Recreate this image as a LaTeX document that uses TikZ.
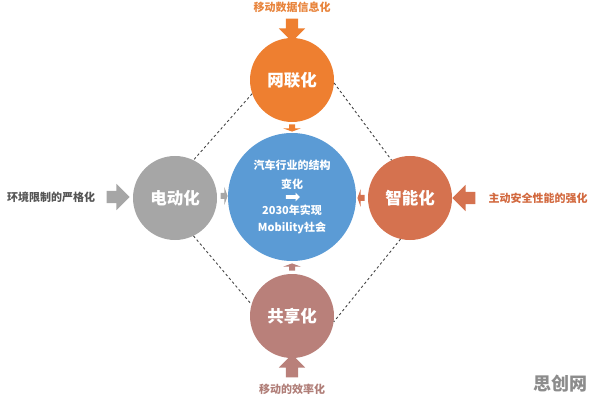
\documentclass[tikz,border=0pt]{standalone}
\usepackage{fontspec}
\setmainfont{Noto Sans CJK SC}
\usetikzlibrary{shapes.arrows}
\definecolor{corange}{HTML}{EE7F30}
\definecolor{cgray}{HTML}{A6A6A6}
\definecolor{cred}{HTML}{D5724F}
\definecolor{cbrown}{HTML}{B9807A}
\definecolor{cblue}{HTML}{5B9BD5}
\definecolor{tgray}{HTML}{555555}
\definecolor{tbrown}{HTML}{B07E78}
\definecolor{tred}{HTML}{D2693F}
\definecolor{torange}{HTML}{E8843C}
\definecolor{dashc}{HTML}{444444}
\tikzset{
  ball/.style={circle, minimum size=84pt, inner sep=0pt, text=white, font=\bfseries\fontsize{16.5}{18}\selectfont},
  bigarrow/.style={single arrow, draw=none, inner sep=6pt, minimum height=23pt, single arrow head extend=7pt, single arrow head indent=0pt},
  smallarrow/.style={single arrow, draw=none, inner sep=2.8pt, minimum height=7pt, single arrow head extend=6pt, single arrow tip angle=140, single arrow head indent=0pt},
  outlabel/.style={font=\bfseries\fontsize{11}{13}\selectfont},
  ctext/.style={text=white, font=\bfseries\fontsize{11}{13}\selectfont, inner sep=0pt},
  conn/.style={draw=dashc, line width=0.9pt, dash pattern=on 2.5pt off 2.5pt}
}
\begin{document}
\begin{tikzpicture}[x=1pt,y=-1pt]
\useasboundingbox (0,0) rectangle (596,403);
% circles
\node[ball, fill=cblue, minimum size=128pt] (center) at (292,197) {};
\node[ball, fill=corange] (top) at (292,80) {网联化};
\node[ball, fill=cgray] (left) at (175,198) {电动化};
\node[ball, fill=cred] (right) at (410,198) {智能化};
\node[ball, fill=cbrown] (bottom) at (292,316) {共享化};
% center text
\node[ctext] (c1) at (292,165) {汽车行业的结构};
\node[ctext] (c2) at (292,184) {变化};
\node[single arrow, fill=white, inner sep=1.6pt, minimum height=14pt, single arrow head extend=2.6pt, single arrow head indent=0pt] (carrow) at (292,197) {};
\node[ctext] (c3) at (292,210) {2030年实现};
\node[ctext] (c4) at (292,228) {Mobility社会};
% dashed connectors
\draw[conn] (top.199) -- (left.64);
\draw[conn] (top.356) -- (right.116);
\draw[conn] (left.296) -- (bottom.164);
\draw[conn] (right.257) -- (bottom.352);
% small arrows
\node[smallarrow, fill=corange, shape border rotate=270] (sa1) at (292,127.5) {};
\node[smallarrow, fill=cgray] (sa2) at (223.5,196) {};
\node[smallarrow, fill=cred, shape border rotate=180] (sa3) at (361.5,198) {};
\node[smallarrow, fill=cbrown, shape border rotate=90] (sa4) at (292,267.5) {};
% big arrows
\node[bigarrow, fill=corange, shape border rotate=270] (ba1) at (292,27) {};
\node[bigarrow, fill=cgray] (ba2) at (115,197) {};
\node[bigarrow, fill=cred, shape border rotate=180] (ba3) at (467,198) {};
\node[bigarrow, fill=cbrown, shape border rotate=90] (ba4) at (292,369) {};
% outer labels
\node[outlabel, text=torange] (l1) at (292,7) {移动数据信息化};
\node[outlabel, text=tgray] (l2) at (51,197) {环境限制的严格化};
\node[outlabel, text=tred] (l3) at (538,198) {主动安全性能的强化};
\node[outlabel, text=tbrown] (l4) at (292,389) {移动的效率化};
% watermark
\node[font=\bfseries\fontsize{18}{20}\selectfont, text=black!45] (wm) at (560,384) {思创网};
\end{tikzpicture}
\end{document}
